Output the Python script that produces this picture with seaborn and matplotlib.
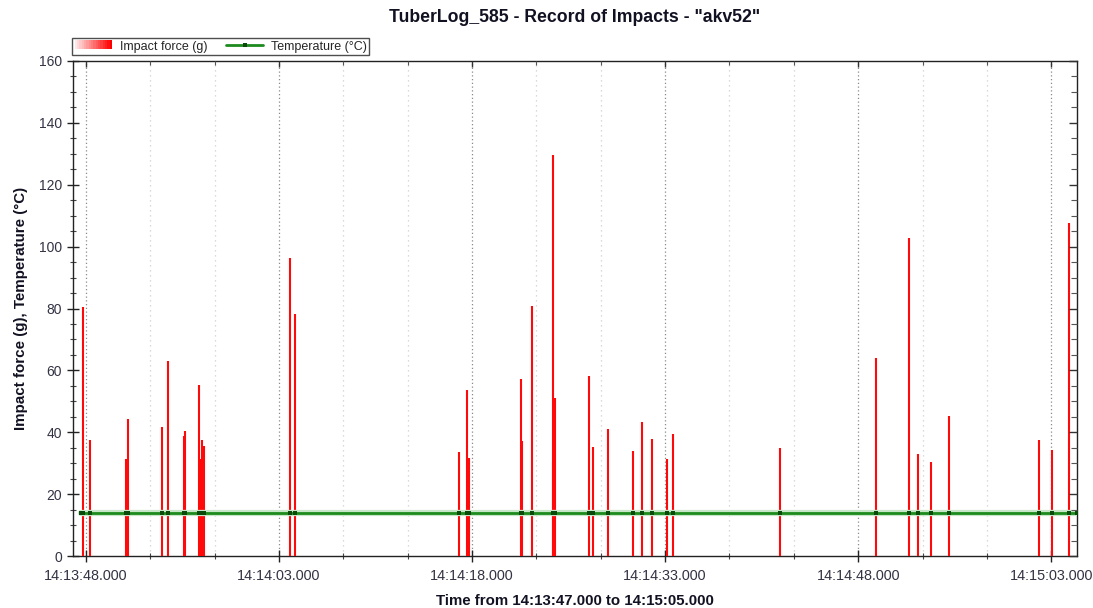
import matplotlib
matplotlib.use("Agg")
import matplotlib.pyplot as plt
from matplotlib.ticker import MultipleLocator, FuncFormatter, FixedLocator
from matplotlib.patches import Rectangle
from matplotlib.lines import Line2D
from matplotlib.legend_handler import HandlerBase
import matplotlib.colors as mcolors
import seaborn as sns
import pandas as pd

# Impact times (seconds after 14:13:00) and impact forces (g)
impact_times = [47.77, 48.31, 51.08, 51.24, 53.91, 54.40, 55.59, 55.67, 56.81, 56.88,
                57.04, 57.15, 63.85, 64.22, 76.97, 77.61, 77.79, 81.81, 81.89, 82.64,
                84.27, 84.32, 84.43, 87.07, 87.38, 88.54, 90.49, 91.21, 92.01, 93.15,
                93.62, 101.96, 109.42, 111.94, 112.66, 113.62, 115.07, 122.04, 123.08,
                124.37]
impact_forces = [80.6, 37.4, 31.4, 44.2, 41.8, 63.0, 38.8, 40.4, 55.3, 31.4,
                 37.4, 35.4, 96.2, 78.2, 33.7, 53.6, 31.8, 57.2, 37.2, 80.9,
                 30.5, 129.6, 51.2, 58.2, 35.1, 41.2, 33.8, 43.3, 37.8, 31.4,
                 39.4, 34.8, 64.1, 102.8, 33.0, 30.4, 45.1, 37.5, 34.4, 107.7]

# Temperature samples (seconds after 14:13:00) and values (°C)
temp_times = [47.6] + impact_times + [125.0]
temp_values = [14.0] * len(temp_times)

title = 'TuberLog_585 - Record of Impacts - "akv52"'
xlabel = "Time from 14:13:47.000 to 14:15:05.000"
ylabel = "Impact force (g), Temperature (°C)"
series_names = ["Impact force (g)", "Temperature (°C)"]
x_start, x_end = 47.0, 125.0

sns.set_style("white")
plt.rcParams["font.family"] = ["Liberation Sans", "DejaVu Sans"]

fig = plt.figure(figsize=(10.93, 6.08), dpi=100)
ax = fig.add_axes([73 / 1093, 1 - 556 / 608, (1077 - 73) / 1093, (556 - 61) / 608])

# impacts as thin vertical bars
ax.vlines(impact_times, 0, impact_forces, colors="#ff0a0a", linewidth=1.5, zorder=3)

# temperature line
temp_df = pd.DataFrame({"t": temp_times, "temp": temp_values})
sns.lineplot(data=temp_df, x="t", y="temp", ax=ax, color="#c8e6c8", linewidth=4.5,
             zorder=4, legend=False)
sns.lineplot(data=temp_df, x="t", y="temp", ax=ax, color="#1c8a1c", linewidth=2.0,
             marker="s", markersize=3.2, markeredgewidth=0, markerfacecolor="#0a4a0a",
             zorder=5, legend=False)

ax.set_xlim(x_start, x_end)
ax.set_ylim(0, 160)

majors = [48 + 15 * i for i in range(6)]
minors = [48 + 5 * i for i in range(16) if (5 * i) % 15 != 0]
ax.xaxis.set_major_locator(FixedLocator(majors))
ax.xaxis.set_minor_locator(FixedLocator(minors))

def fmt_time(v, pos):
    total = int(round(v))
    m = 13 + total // 60
    s = total % 60
    return f"14:{m:02d}:{s:02d}.000"

ax.xaxis.set_major_formatter(FuncFormatter(fmt_time))
ax.yaxis.set_major_locator(MultipleLocator(20))
ax.yaxis.set_minor_locator(MultipleLocator(5))

ax.grid(True, which="major", axis="x", color="#8a8a8a", linestyle=(0, (1, 2)), linewidth=0.9)
ax.grid(True, which="minor", axis="x", color="#cfcfcf", linestyle=(0, (1, 3)), linewidth=0.9)
ax.grid(False, axis="y")
ax.set_axisbelow(True)

for sp in ax.spines.values():
    sp.set_visible(True)
    sp.set_color("#222222")
    sp.set_linewidth(1.0)

ax.tick_params(axis="x", which="major", direction="inout", length=8, width=1,
               labelsize=10.4, pad=5, colors="#222222", labelcolor="#333344")
ax.tick_params(axis="x", which="minor", direction="inout", length=5, width=0.8,
               colors="#444444")
ax.tick_params(axis="y", which="major", direction="inout", length=8, width=1,
               labelsize=10, pad=4, colors="#222222", labelcolor="#333344")
ax.tick_params(axis="y", which="minor", direction="inout", length=5, width=0.8,
               colors="#444444")

# inward ticks on the right and top edges
axr = ax.twinx()
axr.set_ylim(ax.get_ylim())
axr.yaxis.set_major_locator(MultipleLocator(20))
axr.yaxis.set_minor_locator(MultipleLocator(5))
axr.tick_params(axis="y", which="major", direction="in", length=6, width=1,
                labelright=False, colors="#333333")
axr.tick_params(axis="y", which="minor", direction="in", length=4, width=0.8,
                colors="#555555")
axt = ax.twiny()
axt.set_xlim(ax.get_xlim())
axt.xaxis.set_major_locator(FixedLocator(majors))
axt.xaxis.set_minor_locator(FixedLocator(minors))
axt.tick_params(axis="x", which="major", direction="in", length=4, width=1,
                labeltop=False, colors="#333333")
axt.tick_params(axis="x", which="minor", direction="in", length=3, width=0.8,
                colors="#555555")
for a in (axr, axt):
    for sp in a.spines.values():
        sp.set_visible(False)

ax.set_xlabel(xlabel, fontsize=10.8, fontweight="bold", labelpad=8, color="#111122")
ax.set_ylabel(ylabel, fontsize=10.9, fontweight="bold", labelpad=8, color="#111122")
fig.text(575 / 1093, 1 - 18 / 608, title, ha="center", va="center",
         fontsize=12.7, fontweight="bold", color="#111122")


class GradientHandler(HandlerBase):
    def create_artists(self, legend, orig_handle, xdescent, ydescent, width, height,
                       fontsize, trans):
        cmap = mcolors.LinearSegmentedColormap.from_list("g", ["#ffe8e8", "#ff0000"])
        n = 16
        arts = []
        for i in range(n):
            r = Rectangle((xdescent + width * i / n, ydescent), width / n + 0.3, height,
                          facecolor=cmap(i / (n - 1)), edgecolor="none", transform=trans)
            arts.append(r)
        return arts


class GradientKey:
    pass


handles = [GradientKey(),
           Line2D([0], [0], color="#1c8a1c", linewidth=2, marker="s", markersize=3,
                  markerfacecolor="#0a4a0a", markeredgewidth=0)]
leg = fig.legend(handles=handles, labels=series_names, loc="upper left",
                 handler_map={GradientKey: GradientHandler()},
                 bbox_to_anchor=(72 / 1093, 1 - 38 / 608), ncol=2, frameon=True,
                 fancybox=False, edgecolor="#222222", fontsize=9,
                 borderpad=0.2, handlelength=3.0, handleheight=0.8,
                 columnspacing=1.5, handletextpad=0.6, borderaxespad=0)
leg.get_frame().set_linewidth(1.0)

fig.savefig("out.png", dpi=100, facecolor="white")
